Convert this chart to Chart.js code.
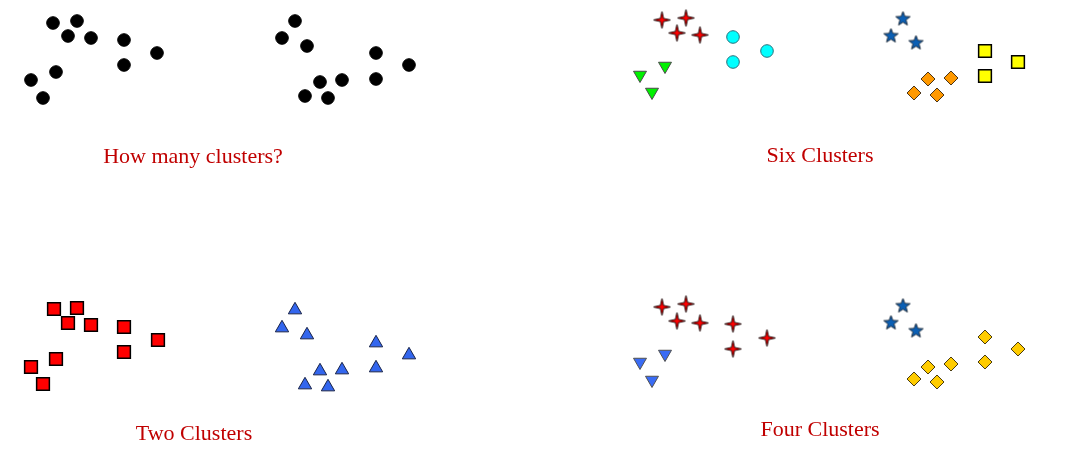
<!DOCTYPE html>
<html>
<head>
<meta charset="utf-8">
<script src="https://cdn.jsdelivr.net/npm/chart.js@4"></script>
<style>
  html, body { margin: 0; padding: 0; background: #fff; }
  body { width: 1069px; height: 475px; position: relative; overflow: hidden; }
  .panel { position: absolute; width: 469px; height: 190px; }
  .titulo {
    position: absolute;
    font-family: "Liberation Serif", "Times New Roman", serif;
    font-size: 22px;
    line-height: 22px;
    color: #c00000;
    white-space: nowrap;
    transform: translateX(-50%);
  }
</style>
</head>
<body>
<div class="panel" style="left:0;top:0"><canvas id="painel1"></canvas></div>
<div class="panel" style="left:600px;top:0"><canvas id="painel2"></canvas></div>
<div class="panel" style="left:0;top:280px"><canvas id="painel3"></canvas></div>
<div class="panel" style="left:600px;top:280px"><canvas id="painel4"></canvas></div>

<div class="titulo" id="titulo1" style="left:193px;top:145px"></div>
<div class="titulo" id="titulo2" style="left:820px;top:144px"></div>
<div class="titulo" id="titulo3" style="left:194px;top:422px"></div>
<div class="titulo" id="titulo4" style="left:820px;top:418px"></div>

<script>
// --- TITULOS ---
const titulos = ["How many clusters?", "Six Clusters", "Two Clusters", "Four Clusters"];

// --- DADOS (coordenadas locais de cada painel) ---
// painel 1: todos os pontos sem grupo
const pontosSemGrupo = [
  [53, 23], [77, 21], [68, 36], [91, 38], [124, 40], [124, 65], [157, 53],
  [56, 72], [31, 80], [43, 98],
  [295, 21], [282, 38], [307, 46], [376, 53], [409, 65], [376, 79],
  [320, 82], [342, 80], [305, 96], [328, 98]
];

// painel 2: seis grupos
const seisEstrelas4 = [[62, 20], [86, 18], [77, 33], [100, 35]];
const seisCirculos = [[133, 37], [133, 62], [167, 51]];
const seisTriangulos = [[40, 75], [65, 66], [52, 92]];
const seisEstrelas5 = [[303, 19], [291, 36], [316, 43]];
const seisQuadrados = [[385, 51], [418, 62], [385, 76]];
const seisLosangos = [[328, 79], [351, 78], [314, 93], [337, 95]];

// painel 3: dois grupos
const doisQuadrados = [
  [54, 29], [77, 28], [68, 43], [91, 45], [124, 47], [124, 72], [158, 60],
  [56, 79], [31, 87], [43, 104]
];
const doisTriangulos = [
  [295, 30], [282, 48], [307, 55], [376, 63], [409, 75], [376, 88],
  [320, 91], [342, 90], [305, 105], [328, 107]
];

// painel 4: quatro grupos
const quatroEstrelas4 = [[62, 27], [86, 24], [77, 41], [100, 43], [133, 44], [133, 69], [167, 58]];
const quatroTriangulos = [[40, 82], [65, 74], [52, 100]];
const quatroEstrelas5 = [[303, 26], [291, 43], [316, 51]];
const quatroLosangos = [[385, 57], [418, 69], [385, 82], [328, 87], [351, 84], [314, 99], [337, 102]];

// --- MARCADORES ---
function criarEstrela(pontas, externo, interno, cor, borda) {
  const c = document.createElement("canvas");
  const tam = Math.ceil(externo * 2 + 4);
  c.width = tam;
  c.height = tam;
  const ctx = c.getContext("2d");
  ctx.translate(tam / 2, tam / 2);
  ctx.beginPath();
  for (let i = 0; i < pontas * 2; i++) {
    const r = i % 2 === 0 ? externo : interno;
    const a = -Math.PI / 2 + (i * Math.PI) / pontas;
    const px = Math.cos(a) * r;
    const py = Math.sin(a) * r;
    if (i === 0) ctx.moveTo(px, py);
    else ctx.lineTo(px, py);
  }
  ctx.closePath();
  ctx.fillStyle = cor;
  ctx.fill();
  ctx.lineWidth = 1;
  ctx.strokeStyle = borda;
  ctx.stroke();
  return c;
}

const estrela4 = criarEstrela(4, 8.5, 2.2, "#ff0000", "#1a0000");
const estrela5 = criarEstrela(5, 7.5, 3.2, "#0b5fb4", "#1a2a3c");

const pts = (arr) => arr.map(([x, y]) => ({ x, y }));

function serie(arr, estilo) {
  return Object.assign({ data: pts(arr), pointBorderWidth: 1 }, estilo);
}

function criarPainel(id, datasets) {
  return new Chart(document.getElementById(id), {
    type: "scatter",
    data: { datasets },
    options: {
      responsive: true,
      maintainAspectRatio: false,
      animation: false,
      layout: { padding: 0, autoPadding: false },
      plugins: { legend: { display: false }, tooltip: { enabled: false } },
      scales: {
        x: { type: "linear", min: 0, max: 469, display: false },
        y: { type: "linear", min: 0, max: 190, reverse: true, display: false }
      }
    }
  });
}

criarPainel("painel1", [
  serie(pontosSemGrupo, { pointStyle: "circle", pointRadius: 6.3, backgroundColor: "#000", borderColor: "#000" })
]);

criarPainel("painel2", [
  serie(seisEstrelas4, { pointStyle: estrela4, pointRadius: 9 }),
  serie(seisCirculos, { pointStyle: "circle", pointRadius: 6.3, backgroundColor: "#00ffff", borderColor: "#2b6f7a" }),
  serie(seisTriangulos, { pointStyle: "triangle", rotation: 180, pointRadius: 7.5, backgroundColor: "#00f000", borderColor: "#4a4a4a" }),
  serie(seisEstrelas5, { pointStyle: estrela5, pointRadius: 8 }),
  serie(seisQuadrados, { pointStyle: "rect", pointRadius: 9, backgroundColor: "#ffff00", borderColor: "#000", pointBorderWidth: 1.5 }),
  serie(seisLosangos, { pointStyle: "rectRot", pointRadius: 7, backgroundColor: "#ff9900", borderColor: "#4a3418" })
]);

criarPainel("painel3", [
  serie(doisQuadrados, { pointStyle: "rect", pointRadius: 9, backgroundColor: "#ff0000", borderColor: "#000", pointBorderWidth: 1.5 }),
  serie(doisTriangulos, { pointStyle: "triangle", pointRadius: 7.7, backgroundColor: "#3366ee", borderColor: "#1a2448" })
]);

criarPainel("painel4", [
  serie(quatroEstrelas4, { pointStyle: estrela4, pointRadius: 9 }),
  serie(quatroTriangulos, { pointStyle: "triangle", rotation: 180, pointRadius: 7.5, backgroundColor: "#3a6cf5", borderColor: "#505050" }),
  serie(quatroEstrelas5, { pointStyle: estrela5, pointRadius: 8 }),
  serie(quatroLosangos, { pointStyle: "rectRot", pointRadius: 7, backgroundColor: "#ffcc00", borderColor: "#4a3c10" })
]);

titulos.forEach((t, i) => {
  document.getElementById("titulo" + (i + 1)).textContent = t;
});
</script>
</body>
</html>
